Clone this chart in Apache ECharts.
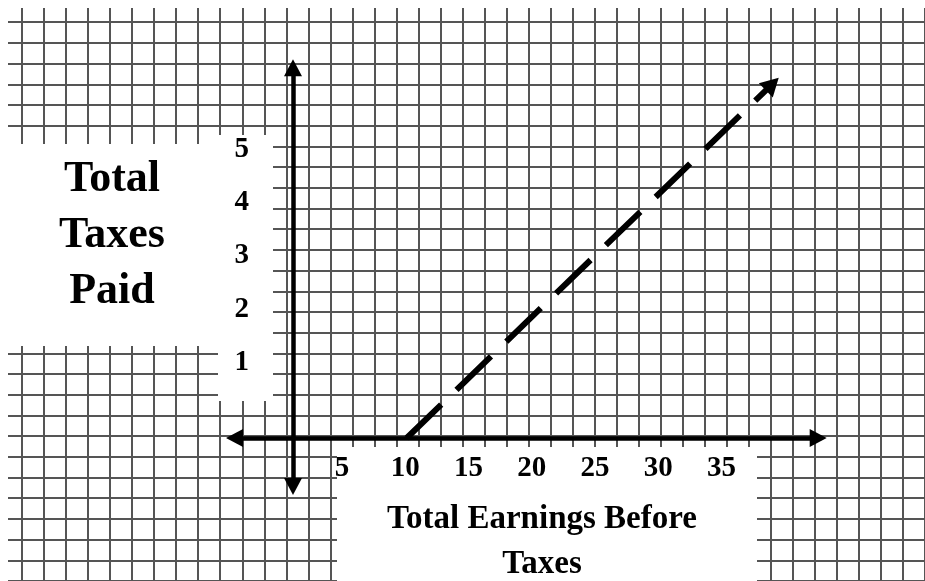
<!DOCTYPE html>
<html>
<head>
<meta charset="utf-8">
<title>Total Taxes Paid</title>
<script src="https://cdn.jsdelivr.net/npm/echarts@6/dist/echarts.min.js"></script>
<style>
html,body{margin:0;padding:0;background:#fff;}
#chart_1{width:925px;height:581px;}
</style>
</head>
<body>
<div id="chart_1"></div>
<script>
// tick labels
var xTicks = [5, 10, 15, 20, 25, 30, 35];
var yTicks = [1, 2, 3, 4, 5];
// dashed line: no tax until earnings reach 10
var taxLine = [[10, 0], [42.15, 6.64]];
var yTitle = 'Total\nTaxes\nPaid';
var xTitle = 'Total Earnings Before\nTaxes';

var serif = '"Liberation Serif", "DejaVu Serif", serif';
var paperLine = {color: '#555', width: 2};
var axisLineStyle = {color: '#000', width: 4.5};

function chart(){
    var option = {
        animation: false,
        backgroundColor: '#fff',
        grid: [
            // graph paper
            {left: -10.3, right: -30.7, top: 1.52, bottom: -30.4},
            // plot
            {left: 234.5, right: 106.8, top: 67.8, bottom: 94.5}
        ],
        xAxis: [
            {
                gridIndex: 0, type: 'value', min: -1, max: 41, interval: 1, z: 0,
                axisLine: {show: false, onZero: false}, axisTick: {show: false}, axisLabel: {show: false},
                splitLine: {show: true, lineStyle: paperLine}
            },
            {
                gridIndex: 1, type: 'value', min: -5.145, max: 46.19, z: 3,
                axisLine: {
                    onZero: true, onZeroAxisIndex: 1,
                    symbol: ['triangle', 'triangle'], symbolSize: [18, 17],
                    lineStyle: axisLineStyle
                },
                axisTick: {show: false}, axisLabel: {show: false}, splitLine: {show: false}
            },
            {
                gridIndex: 1, type: 'value', min: -3.484, max: 42.63, z: 3,
                position: 'bottom', offset: -46.5,
                axisLine: {show: false, onZero: false}, axisTick: {show: false}, splitLine: {show: false},
                axisLabel: {
                    customValues: xTicks, margin: 14, color: '#000',
                    fontFamily: serif, fontWeight: 'bold', fontSize: 29
                }
            }
        ],
        yAxis: [
            {
                gridIndex: 0, type: 'value', min: -1, max: 27, interval: 1, inverse: true, z: 0,
                axisLine: {show: false, onZero: false}, axisTick: {show: false}, axisLabel: {show: false},
                splitLine: {show: true, lineStyle: paperLine}
            },
            {
                gridIndex: 1, type: 'value', min: -0.910, max: 6.946, z: 3,
                axisLine: {
                    onZero: true, onZeroAxisIndex: 1,
                    symbol: ['triangle', 'triangle'], symbolSize: [18, 17],
                    lineStyle: axisLineStyle
                },
                axisTick: {show: false}, axisLabel: {show: false}, splitLine: {show: false}
            },
            {
                gridIndex: 1, type: 'value', min: -1.325, max: 6.531, z: 3,
                position: 'left', offset: -22.5,
                axisLine: {show: false, onZero: false}, axisTick: {show: false}, splitLine: {show: false},
                axisLabel: {
                    customValues: yTicks, margin: 8, color: '#000',
                    fontFamily: serif, fontWeight: 'bold', fontSize: 29
                }
            }
        ],
        graphic: [
            // paper margins
            {type: 'rect', z: 1, shape: {x: 0, y: 0, width: 8, height: 581}, style: {fill: '#fff'}},
            {type: 'rect', z: 1, shape: {x: 0, y: 0, width: 925, height: 8}, style: {fill: '#fff'}},
            // white patches behind the labels
            {type: 'rect', z: 1, shape: {x: 0, y: 144, width: 218, height: 202}, style: {fill: '#fff'}},
            {type: 'rect', z: 1, shape: {x: 218, y: 135, width: 55, height: 266}, style: {fill: '#fff'}},
            {type: 'rect', z: 1, shape: {x: 337, y: 447, width: 420, height: 134}, style: {fill: '#fff'}},
            {
                type: 'text', z: 5, x: 112, y: 152,
                style: {
                    text: yTitle, fill: '#000', align: 'center', verticalAlign: 'top',
                    font: 'bold 44px ' + serif, lineHeight: 56
                }
            },
            {
                type: 'text', z: 5, x: 542, y: 496.5,
                style: {
                    text: xTitle, fill: '#000', align: 'center', verticalAlign: 'top',
                    font: 'bold 33px ' + serif, lineHeight: 45
                }
            }
        ],
        series: [
            {
                name: 'Total Taxes Paid',
                type: 'lines',
                coordinateSystem: 'cartesian2d',
                xAxisIndex: 1, yAxisIndex: 1, z: 4,
                symbol: ['none', 'triangle'],
                symbolSize: [[20, 18], [20, 18]],
                lineStyle: {color: '#000', width: 6, opacity: 1, type: [48, 21.3]},
                data: [{coords: taxLine}]
            }
        ]
    };
    var myChart1 = echarts.init(document.getElementById('chart_1'));
    myChart1.setOption(option);
}
chart();
</script>
</body>
</html>
